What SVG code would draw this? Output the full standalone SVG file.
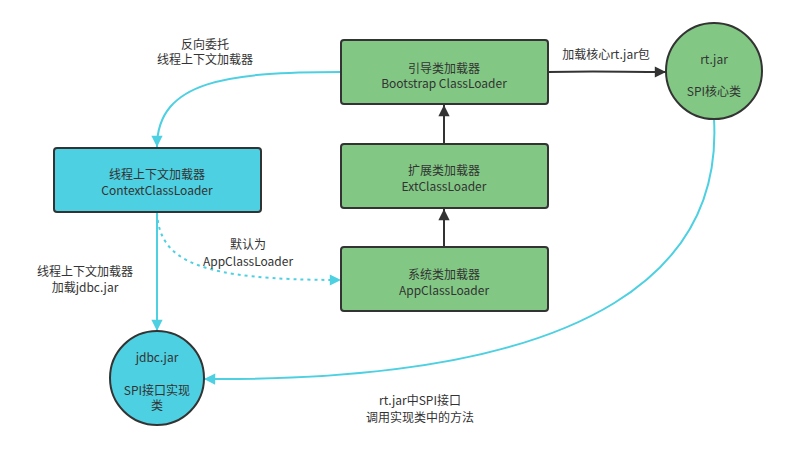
<svg xmlns="http://www.w3.org/2000/svg" width="787" height="451" viewBox="0 0 787 451">
<style>
.t{font-family:"Noto Sans CJK SC","Noto Sans",sans-serif;font-size:12px;fill:#333;text-anchor:middle;dominant-baseline:central}
.box{stroke:#333;stroke-width:2}
.g{fill:#82C884}
.c{fill:#4DD0E1}
.k{fill:none;stroke:#333;stroke-width:2}
.cy{fill:none;stroke:#4DD0E1;stroke-width:2}
</style>
<defs>
<marker id="ak" viewBox="0 0 10 10" refX="10" refY="5" markerWidth="7" markerHeight="7" markerUnits="userSpaceOnUse" orient="auto" overflow="visible"><path d="M0,0 L10,5 L0,10 Z" fill="#333" transform="scale(1.6)" transform-origin="10 5"/></marker>
<marker id="ac" viewBox="0 0 10 10" refX="10" refY="5" markerWidth="7" markerHeight="7" markerUnits="userSpaceOnUse" orient="auto" overflow="visible"><path d="M0,0 L10,5 L0,10 Z" fill="#4DD0E1" transform="scale(1.6)" transform-origin="10 5"/></marker>
</defs>
<rect width="787" height="451" fill="#fff"/>
<g id="connectors">
<path class="k" d="M548,72 C600,71 620,72 666,72" marker-end="url(#ak)"/>
<path class="k" d="M444,143 L444,105" marker-end="url(#ak)"/>
<path class="k" d="M444,247 L444,209" marker-end="url(#ak)"/>
<path class="cy" d="M341,72 C230,72 157,80 157,147" marker-end="url(#ac)"/>
<path class="cy" d="M157,212 L157,331" marker-end="url(#ac)"/>
<path class="cy" d="M157,213 C160,262 200,280 341,280" stroke-dasharray="3 4" marker-end="url(#ac)"/>
<path class="cy" d="M714,119 C722,260 610,382 204,379" marker-end="url(#ac)"/>
<text class="t" x="606" y="53">加载核心rt.jar包</text>
<text class="t" x="205" y="43">反向委托</text>
<text class="t" x="205" y="58">线程上下文加载器</text>
<text class="t" x="85" y="270">线程上下文加载器</text>
<text class="t" x="85" y="286">加载jdbc.jar</text>
<text class="t" x="248" y="243">默认为</text>
<text class="t" x="248" y="260">AppClassLoader</text>
<text class="t" x="420" y="399">rt.jar中SPI接口</text>
<text class="t" x="420" y="416">调用实现类中的方法</text>
</g>
<g id="bootstrap">
<rect class="box g" x="341" y="40" width="207" height="64" rx="3"/>
<text class="t" x="444" y="67">引导类加载器</text>
<text class="t" x="444" y="82">Bootstrap ClassLoader</text>
</g>
<g id="ext">
<rect class="box g" x="341" y="144" width="207" height="64" rx="3"/>
<text class="t" x="444" y="169">扩展类加载器</text>
<text class="t" x="444" y="185">ExtClassLoader</text>
</g>
<g id="app">
<rect class="box g" x="341" y="247" width="207" height="64" rx="3"/>
<text class="t" x="444" y="273">系统类加载器</text>
<text class="t" x="444" y="289">AppClassLoader</text>
</g>
<g id="context">
<rect class="box c" x="54" y="148" width="207" height="64" rx="3"/>
<text class="t" x="157" y="173">线程上下文加载器</text>
<text class="t" x="157" y="189">ContextClassLoader</text>
</g>
<g id="rtjar">
<circle class="box g" cx="714" cy="71" r="48"/>
<text class="t" x="714" y="58">rt.jar</text>
<text class="t" x="714" y="90">SPI核心类</text>
</g>
<g id="jdbcjar">
<circle class="box c" cx="157" cy="378" r="47"/>
<text class="t" x="157" y="356">jdbc.jar</text>
<text class="t" x="157" y="389">SPI接口实现</text>
<text class="t" x="157" y="404">类</text>
</g>
</svg>
